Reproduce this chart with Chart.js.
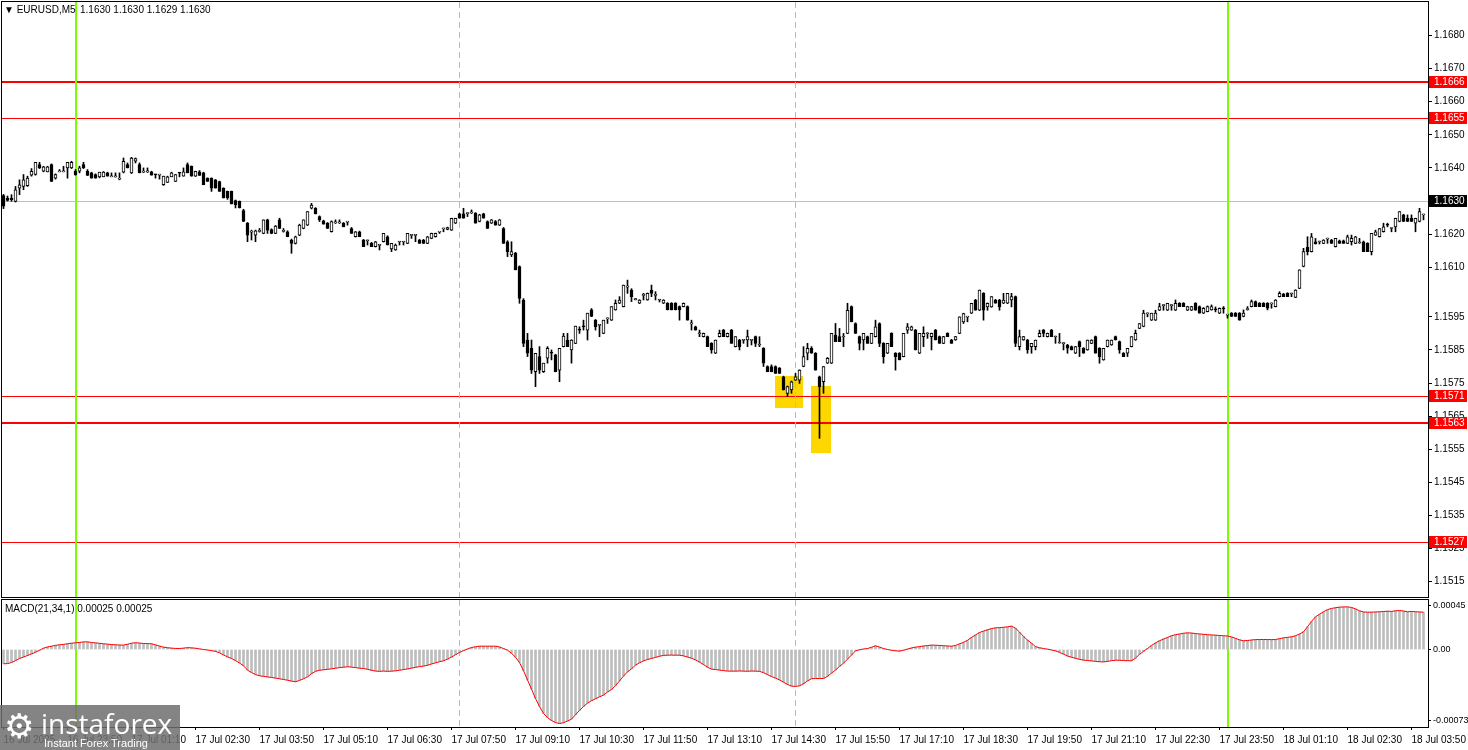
<!DOCTYPE html>
<html>
<head>
<meta charset="utf-8">
<title>EURUSD,M5</title>
<script src="https://cdn.jsdelivr.net/npm/chart.js"></script>
<style>
  body { margin: 0; background: #fff; width: 1468px; height: 750px; overflow: hidden; position: relative;
         font-family: "Liberation Sans", Arial, sans-serif; }
  #pricePane { position: absolute; left: 0; top: 0; width: 1468px; height: 600px; }
  #macdPane { position: absolute; left: 0; top: 598px; width: 1468px; height: 152px; }
  .txt { position: absolute; font-size: 10px; color: #000; white-space: nowrap; line-height: 12px; }
  #logo { position: absolute; left: 0; top: 705px; width: 180px; height: 45px; background: rgba(110,110,110,0.85); color: #fff; }
  #logo .gear { position: absolute; left: 4px; top: 2px; font-size: 34px; line-height: 38px; font-family: "DejaVu Sans"; }
  #logo .name { position: absolute; left: 41px; top: 1px; font-size: 28px; line-height: 34px; font-family: "Open Sans", "Liberation Sans"; }
  #logo .sub { position: absolute; left: 44px; top: 32px; font-size: 11px; line-height: 12px; font-family: "Liberation Sans"; }
</style>
</head>
<body>
<div id="pricePane"><canvas id="priceChart"></canvas></div>
<div id="macdPane"><canvas id="macdChart"></canvas></div>
<div class="txt" style="left:4px;top:4px;">&#9660; EURUSD,M5</div>
<div class="txt" style="left:80px;top:4px;">1.1630 1.1630 1.1629 1.1630</div>
<div class="txt" style="left:5px;top:603px;">MACD(21,34,1) 0.00025 0.00025</div>
<div id="logo"><span class="gear">&#9881;</span><span class="name">instaforex</span><span class="sub">Instant Forex Trading</span></div>
<script>
// 16 Jul 22:30 .. 18 Jul 04:05, one bar every 5 minutes
const open = [
  1.16316, 1.16309, 1.16309, 1.16299, 1.16339, 1.16344, 1.16346, 1.16378, 1.16380, 1.16410,
  1.16390, 1.16388, 1.16410, 1.16369, 1.16388, 1.16388, 1.16400, 1.16400, 1.16390, 1.16390,
  1.16410, 1.16390, 1.16385, 1.16380, 1.16373, 1.16373, 1.16385, 1.16373, 1.16373, 1.16366,
  1.16387, 1.16410, 1.16385, 1.16420, 1.16410, 1.16387, 1.16388, 1.16388, 1.16380, 1.16378,
  1.16349, 1.16356, 1.16373, 1.16359, 1.16385, 1.16375, 1.16410, 1.16405, 1.16375, 1.16388,
  1.16385, 1.16369, 1.16369, 1.16364, 1.16359, 1.16339, 1.16329, 1.16329, 1.16301, 1.16299,
  1.16271, 1.16233, 1.16206, 1.16197, 1.16208, 1.16202, 1.16243, 1.16214, 1.16202, 1.16243,
  1.16208, 1.16207, 1.16182, 1.16172, 1.16197, 1.16217, 1.16227, 1.16278, 1.16278, 1.16253,
  1.16240, 1.16233, 1.16207, 1.16234, 1.16234, 1.16233, 1.16236, 1.16217, 1.16192, 1.16207,
  1.16182, 1.16180, 1.16172, 1.16162, 1.16166, 1.16177, 1.16192, 1.16155, 1.16152, 1.16176,
  1.16176, 1.16172, 1.16196, 1.16196, 1.16182, 1.16182, 1.16172, 1.16187, 1.16192, 1.16206,
  1.16216, 1.16214, 1.16212, 1.16233, 1.16261, 1.16261, 1.16262, 1.16264, 1.16263, 1.16238,
  1.16261, 1.16238, 1.16233, 1.16238, 1.16227, 1.16217, 1.16177, 1.16137, 1.16142, 1.16102,
  1.16001, 1.15880, 1.15855, 1.15784, 1.15830, 1.15784, 1.15825, 1.15841, 1.15835, 1.15789,
  1.15860, 1.15880, 1.15850, 1.15870, 1.15911, 1.15921, 1.15910, 1.15971, 1.15940, 1.15924,
  1.15900, 1.15944, 1.15940, 1.15971, 1.15991, 1.15981, 1.16040, 1.16031, 1.16002, 1.15991,
  1.16015, 1.16001, 1.16031, 1.16015, 1.16001, 1.15991, 1.15991, 1.15991, 1.15991, 1.15981,
  1.15981, 1.15981, 1.15929, 1.15920, 1.15899, 1.15890, 1.15890, 1.15870, 1.15840, 1.15890,
  1.15910, 1.15890, 1.15910, 1.15860, 1.15880, 1.15879, 1.15880, 1.15879, 1.15890, 1.15865,
  1.15855, 1.15800, 1.15800, 1.15800, 1.15795, 1.15769, 1.15719, 1.15729, 1.15759, 1.15759,
  1.15800, 1.15840, 1.15855, 1.15840, 1.15769, 1.15754, 1.15810, 1.15810, 1.15895, 1.15890,
  1.15889, 1.15900, 1.15981, 1.15930, 1.15890, 1.15880, 1.15890, 1.15870, 1.15890, 1.15930,
  1.15870, 1.15840, 1.15900, 1.15840, 1.15840, 1.15830, 1.15910, 1.15910, 1.15910, 1.15840,
  1.15890, 1.15899, 1.15890, 1.15910, 1.15890, 1.15870, 1.15900, 1.15880, 1.15880, 1.15900,
  1.15935, 1.15949, 1.15961, 1.16001, 1.15970, 1.16021, 1.15980, 1.15980, 1.16001, 1.16001,
  1.15991, 1.15991, 1.16001, 1.16011, 1.15860, 1.15880, 1.15880, 1.15860, 1.15860, 1.15890,
  1.15910, 1.15890, 1.15910, 1.15889, 1.15871, 1.15869, 1.15865, 1.15860, 1.15840, 1.15875,
  1.15855, 1.15850, 1.15870, 1.15890, 1.15855, 1.15820, 1.15860, 1.15865, 1.15890, 1.15875,
  1.15840, 1.15840, 1.15860, 1.15880, 1.15915, 1.15921, 1.15959, 1.15940, 1.15940, 1.15970,
  1.15984, 1.15970, 1.15984, 1.15970, 1.15991, 1.15991, 1.15970, 1.15970, 1.15991, 1.15981,
  1.15961, 1.15966, 1.15971, 1.15972, 1.15961, 1.15975, 1.15955, 1.15961, 1.15961, 1.15961,
  1.15951, 1.15972, 1.15981, 1.15996, 1.15991, 1.15991, 1.15991, 1.15989, 1.15981, 1.16011,
  1.16019, 1.16021, 1.16019, 1.16009, 1.16036, 1.16102, 1.16160, 1.16147, 1.16177, 1.16176,
  1.16172, 1.16185, 1.16182, 1.16162, 1.16180, 1.16180, 1.16172, 1.16177, 1.16172, 1.16173,
  1.16177, 1.16172, 1.16147, 1.16197, 1.16192, 1.16207, 1.16228, 1.16217, 1.16222, 1.16238,
  1.16258, 1.16248, 1.16248, 1.16233, 1.16238, 1.16258
];
const high = [
  1.16320, 1.16315, 1.16319, 1.16344, 1.16364, 1.16380, 1.16375, 1.16398, 1.16417, 1.16417,
  1.16405, 1.16405, 1.16412, 1.16382, 1.16395, 1.16405, 1.16417, 1.16420, 1.16395, 1.16405,
  1.16417, 1.16395, 1.16387, 1.16382, 1.16387, 1.16389, 1.16387, 1.16385, 1.16385, 1.16385,
  1.16430, 1.16415, 1.16432, 1.16430, 1.16415, 1.16400, 1.16400, 1.16390, 1.16381, 1.16381,
  1.16375, 1.16375, 1.16387, 1.16380, 1.16386, 1.16400, 1.16415, 1.16406, 1.16390, 1.16392,
  1.16387, 1.16370, 1.16370, 1.16365, 1.16360, 1.16340, 1.16330, 1.16330, 1.16303, 1.16300,
  1.16275, 1.16235, 1.16212, 1.16212, 1.16217, 1.16243, 1.16245, 1.16216, 1.16226, 1.16248,
  1.16217, 1.16210, 1.16185, 1.16194, 1.16230, 1.16243, 1.16268, 1.16293, 1.16280, 1.16255,
  1.16242, 1.16235, 1.16240, 1.16243, 1.16243, 1.16235, 1.16238, 1.16220, 1.16208, 1.16209,
  1.16184, 1.16182, 1.16175, 1.16178, 1.16168, 1.16202, 1.16195, 1.16172, 1.16170, 1.16178,
  1.16178, 1.16202, 1.16198, 1.16198, 1.16184, 1.16184, 1.16193, 1.16203, 1.16203, 1.16208,
  1.16218, 1.16221, 1.16248, 1.16248, 1.16263, 1.16278, 1.16264, 1.16273, 1.16265, 1.16260,
  1.16263, 1.16240, 1.16244, 1.16241, 1.16244, 1.16220, 1.16180, 1.16177, 1.16145, 1.16104,
  1.16005, 1.15900, 1.15880, 1.15840, 1.15860, 1.15810, 1.15860, 1.15850, 1.15837, 1.15855,
  1.15900, 1.15900, 1.15881, 1.15922, 1.15920, 1.15940, 1.15961, 1.15975, 1.15942, 1.15927,
  1.15940, 1.15947, 1.15981, 1.16001, 1.16011, 1.16046, 1.16061, 1.16035, 1.16006, 1.16002,
  1.16021, 1.16022, 1.16046, 1.16026, 1.16003, 1.16002, 1.15993, 1.15993, 1.15993, 1.15983,
  1.15992, 1.15983, 1.15940, 1.15922, 1.15910, 1.15901, 1.15892, 1.15872, 1.15880, 1.15910,
  1.15912, 1.15901, 1.15912, 1.15890, 1.15882, 1.15882, 1.15910, 1.15882, 1.15892, 1.15890,
  1.15857, 1.15802, 1.15805, 1.15802, 1.15797, 1.15771, 1.15741, 1.15756, 1.15779, 1.15790,
  1.15860, 1.15870, 1.15860, 1.15842, 1.15771, 1.15800, 1.15827, 1.15900, 1.15930, 1.15915,
  1.15900, 1.15991, 1.15983, 1.15932, 1.15892, 1.15900, 1.15892, 1.15900, 1.15940, 1.15932,
  1.15872, 1.15870, 1.15902, 1.15842, 1.15842, 1.15900, 1.15930, 1.15922, 1.15912, 1.15900,
  1.15920, 1.15902, 1.15901, 1.15912, 1.15892, 1.15891, 1.15902, 1.15882, 1.15891, 1.15950,
  1.15961, 1.15951, 1.15991, 1.16003, 1.16031, 1.16023, 1.15992, 1.16011, 1.16003, 1.16003,
  1.16021, 1.16021, 1.16021, 1.16013, 1.15910, 1.15891, 1.15882, 1.15870, 1.15880, 1.15910,
  1.15912, 1.15901, 1.15912, 1.15892, 1.15900, 1.15872, 1.15867, 1.15862, 1.15861, 1.15877,
  1.15857, 1.15880, 1.15881, 1.15892, 1.15857, 1.15855, 1.15880, 1.15880, 1.15892, 1.15877,
  1.15842, 1.15855, 1.15890, 1.15910, 1.15930, 1.15970, 1.15962, 1.15961, 1.15970, 1.15991,
  1.15987, 1.15991, 1.15987, 1.16001, 1.15993, 1.15993, 1.15982, 1.15982, 1.15993, 1.15983,
  1.15978, 1.15983, 1.15986, 1.15980, 1.15977, 1.15981, 1.15957, 1.15963, 1.15963, 1.15963,
  1.15971, 1.15981, 1.16001, 1.15998, 1.15993, 1.15993, 1.15993, 1.15992, 1.16002, 1.16026,
  1.16021, 1.16023, 1.16022, 1.16032, 1.16092, 1.16157, 1.16192, 1.16202, 1.16187, 1.16179,
  1.16183, 1.16188, 1.16184, 1.16187, 1.16182, 1.16182, 1.16197, 1.16197, 1.16193, 1.16187,
  1.16179, 1.16174, 1.16202, 1.16212, 1.16217, 1.16233, 1.16233, 1.16219, 1.16248, 1.16268,
  1.16260, 1.16258, 1.16258, 1.16248, 1.16278, 1.16260
];
const low = [
  1.16277, 1.16300, 1.16299, 1.16297, 1.16319, 1.16334, 1.16344, 1.16375, 1.16378, 1.16398,
  1.16388, 1.16388, 1.16359, 1.16366, 1.16388, 1.16388, 1.16369, 1.16398, 1.16378, 1.16385,
  1.16398, 1.16377, 1.16369, 1.16369, 1.16370, 1.16373, 1.16375, 1.16373, 1.16372, 1.16364,
  1.16385, 1.16400, 1.16383, 1.16415, 1.16385, 1.16386, 1.16386, 1.16378, 1.16369, 1.16366,
  1.16347, 1.16356, 1.16373, 1.16359, 1.16373, 1.16375, 1.16385, 1.16375, 1.16374, 1.16377,
  1.16349, 1.16359, 1.16329, 1.16339, 1.16329, 1.16309, 1.16305, 1.16291, 1.16279, 1.16279,
  1.16238, 1.16177, 1.16182, 1.16177, 1.16206, 1.16201, 1.16202, 1.16201, 1.16201, 1.16217,
  1.16206, 1.16192, 1.16142, 1.16170, 1.16195, 1.16216, 1.16226, 1.16276, 1.16261, 1.16238,
  1.16230, 1.16217, 1.16206, 1.16232, 1.16232, 1.16222, 1.16227, 1.16202, 1.16191, 1.16192,
  1.16162, 1.16167, 1.16162, 1.16161, 1.16152, 1.16176, 1.16167, 1.16147, 1.16151, 1.16167,
  1.16167, 1.16171, 1.16187, 1.16177, 1.16172, 1.16172, 1.16171, 1.16186, 1.16191, 1.16202,
  1.16207, 1.16213, 1.16211, 1.16232, 1.16248, 1.16248, 1.16253, 1.16262, 1.16233, 1.16237,
  1.16248, 1.16217, 1.16232, 1.16227, 1.16226, 1.16172, 1.16132, 1.16132, 1.16092, 1.15991,
  1.15860, 1.15830, 1.15779, 1.15739, 1.15779, 1.15782, 1.15810, 1.15820, 1.15784, 1.15754,
  1.15859, 1.15860, 1.15810, 1.15869, 1.15900, 1.15910, 1.15880, 1.15951, 1.15910, 1.15890,
  1.15899, 1.15930, 1.15939, 1.15970, 1.15990, 1.15980, 1.16021, 1.15996, 1.16001, 1.15990,
  1.16001, 1.16000, 1.16011, 1.16001, 1.15995, 1.15990, 1.15971, 1.15971, 1.15971, 1.15940,
  1.15980, 1.15940, 1.15910, 1.15910, 1.15890, 1.15889, 1.15860, 1.15840, 1.15839, 1.15889,
  1.15890, 1.15889, 1.15870, 1.15859, 1.15850, 1.15870, 1.15860, 1.15865, 1.15860, 1.15860,
  1.15800, 1.15784, 1.15784, 1.15779, 1.15779, 1.15729, 1.15709, 1.15719, 1.15758, 1.15749,
  1.15799, 1.15820, 1.15840, 1.15789, 1.15583, 1.15719, 1.15809, 1.15809, 1.15875, 1.15875,
  1.15860, 1.15899, 1.15935, 1.15900, 1.15850, 1.15850, 1.15870, 1.15869, 1.15889, 1.15860,
  1.15810, 1.15839, 1.15860, 1.15789, 1.15820, 1.15829, 1.15900, 1.15909, 1.15850, 1.15839,
  1.15860, 1.15885, 1.15850, 1.15880, 1.15870, 1.15869, 1.15890, 1.15870, 1.15879, 1.15899,
  1.15930, 1.15935, 1.15960, 1.15970, 1.15969, 1.15940, 1.15970, 1.15979, 1.15991, 1.15970,
  1.15990, 1.15990, 1.15980, 1.15860, 1.15850, 1.15879, 1.15840, 1.15840, 1.15850, 1.15889,
  1.15890, 1.15889, 1.15890, 1.15870, 1.15870, 1.15850, 1.15840, 1.15850, 1.15839, 1.15830,
  1.15840, 1.15849, 1.15869, 1.15840, 1.15810, 1.15819, 1.15859, 1.15864, 1.15880, 1.15840,
  1.15830, 1.15830, 1.15859, 1.15879, 1.15914, 1.15920, 1.15950, 1.15939, 1.15939, 1.15969,
  1.15970, 1.15969, 1.15970, 1.15969, 1.15981, 1.15981, 1.15969, 1.15969, 1.15970, 1.15961,
  1.15960, 1.15965, 1.15970, 1.15965, 1.15960, 1.15961, 1.15946, 1.15951, 1.15951, 1.15940,
  1.15950, 1.15970, 1.15980, 1.15981, 1.15981, 1.15981, 1.15971, 1.15976, 1.15980, 1.16010,
  1.16011, 1.16011, 1.16011, 1.16008, 1.16035, 1.16101, 1.16137, 1.16146, 1.16170, 1.16170,
  1.16171, 1.16172, 1.16172, 1.16161, 1.16172, 1.16172, 1.16171, 1.16167, 1.16171, 1.16172,
  1.16147, 1.16147, 1.16137, 1.16196, 1.16191, 1.16206, 1.16222, 1.16207, 1.16207, 1.16237,
  1.16238, 1.16238, 1.16238, 1.16207, 1.16237, 1.16243
];
const close = [
  1.16284, 1.16302, 1.16304, 1.16334, 1.16349, 1.16364, 1.16369, 1.16390, 1.16417, 1.16400,
  1.16403, 1.16403, 1.16359, 1.16380, 1.16389, 1.16389, 1.16417, 1.16417, 1.16379, 1.16400,
  1.16400, 1.16377, 1.16369, 1.16369, 1.16387, 1.16387, 1.16375, 1.16374, 1.16374, 1.16367,
  1.16420, 1.16400, 1.16430, 1.16428, 1.16385, 1.16388, 1.16389, 1.16378, 1.16379, 1.16379,
  1.16375, 1.16373, 1.16385, 1.16380, 1.16384, 1.16388, 1.16385, 1.16375, 1.16390, 1.16377,
  1.16349, 1.16359, 1.16339, 1.16339, 1.16329, 1.16309, 1.16309, 1.16291, 1.16289, 1.16279,
  1.16238, 1.16197, 1.16208, 1.16210, 1.16209, 1.16243, 1.16212, 1.16202, 1.16224, 1.16217,
  1.16209, 1.16192, 1.16172, 1.16192, 1.16227, 1.16243, 1.16268, 1.16288, 1.16261, 1.16243,
  1.16230, 1.16217, 1.16238, 1.16235, 1.16235, 1.16222, 1.16237, 1.16202, 1.16207, 1.16192,
  1.16162, 1.16181, 1.16162, 1.16177, 1.16167, 1.16202, 1.16167, 1.16172, 1.16167, 1.16177,
  1.16177, 1.16202, 1.16197, 1.16197, 1.16172, 1.16172, 1.16192, 1.16202, 1.16202, 1.16207,
  1.16217, 1.16220, 1.16248, 1.16248, 1.16248, 1.16248, 1.16263, 1.16265, 1.16233, 1.16258,
  1.16248, 1.16217, 1.16243, 1.16227, 1.16243, 1.16172, 1.16147, 1.16147, 1.16092, 1.16006,
  1.15870, 1.15840, 1.15789, 1.15840, 1.15789, 1.15810, 1.15855, 1.15840, 1.15784, 1.15855,
  1.15892, 1.15860, 1.15880, 1.15922, 1.15910, 1.15920, 1.15961, 1.15951, 1.15920, 1.15925,
  1.15940, 1.15945, 1.15981, 1.15991, 1.16001, 1.16046, 1.16041, 1.16011, 1.16003, 1.16001,
  1.16016, 1.16021, 1.16021, 1.16016, 1.16002, 1.16001, 1.15971, 1.15971, 1.15971, 1.15971,
  1.15991, 1.15940, 1.15930, 1.15910, 1.15900, 1.15900, 1.15860, 1.15850, 1.15880, 1.15900,
  1.15890, 1.15900, 1.15870, 1.15890, 1.15860, 1.15880, 1.15890, 1.15880, 1.15870, 1.15866,
  1.15810, 1.15784, 1.15784, 1.15779, 1.15779, 1.15729, 1.15739, 1.15754, 1.15769, 1.15789,
  1.15830, 1.15855, 1.15840, 1.15789, 1.15739, 1.15800, 1.15825, 1.15900, 1.15875, 1.15875,
  1.15890, 1.15970, 1.15935, 1.15900, 1.15870, 1.15900, 1.15870, 1.15900, 1.15920, 1.15870,
  1.15830, 1.15870, 1.15860, 1.15830, 1.15820, 1.15900, 1.15920, 1.15920, 1.15850, 1.15900,
  1.15900, 1.15900, 1.15900, 1.15880, 1.15870, 1.15890, 1.15890, 1.15870, 1.15890, 1.15950,
  1.15960, 1.15950, 1.15991, 1.15970, 1.16031, 1.15970, 1.15991, 1.16011, 1.15991, 1.15980,
  1.16001, 1.16021, 1.16011, 1.15870, 1.15890, 1.15890, 1.15850, 1.15870, 1.15880, 1.15900,
  1.15900, 1.15900, 1.15890, 1.15890, 1.15872, 1.15870, 1.15855, 1.15850, 1.15860, 1.15860,
  1.15840, 1.15880, 1.15880, 1.15840, 1.15830, 1.15855, 1.15880, 1.15880, 1.15880, 1.15850,
  1.15830, 1.15855, 1.15890, 1.15900, 1.15930, 1.15961, 1.15960, 1.15961, 1.15961, 1.15981,
  1.15985, 1.15991, 1.15985, 1.15991, 1.15981, 1.15981, 1.15981, 1.15981, 1.15970, 1.15961,
  1.15976, 1.15981, 1.15981, 1.15971, 1.15976, 1.15974, 1.15956, 1.15951, 1.15951, 1.15940,
  1.15961, 1.15973, 1.15996, 1.15981, 1.15981, 1.15981, 1.15976, 1.15990, 1.16001, 1.16021,
  1.16011, 1.16011, 1.16020, 1.16031, 1.16092, 1.16147, 1.16147, 1.16192, 1.16170, 1.16177,
  1.16182, 1.16186, 1.16172, 1.16187, 1.16172, 1.16172, 1.16192, 1.16187, 1.16192, 1.16174,
  1.16147, 1.16147, 1.16202, 1.16207, 1.16217, 1.16222, 1.16227, 1.16218, 1.16248, 1.16268,
  1.16238, 1.16238, 1.16238, 1.16248, 1.16268, 1.16259
];
// MACD(21,34,1) main = signal
const macd = [
  -0.000148, -0.000146, -0.000135, -0.000115, -0.000093, -0.000078, -0.000062, -0.000046, -0.000028, -0.000008,
  0.000013, 0.000026, 0.000034, 0.000043, 0.000048, 0.000053, 0.000059, 0.000065, 0.000069, 0.000073,
  0.000078, 0.000079, 0.000072, 0.000068, 0.000064, 0.000059, 0.000055, 0.000051, 0.000048, 0.000046,
  0.000045, 0.000054, 0.000065, 0.000070, 0.000066, 0.000062, 0.000061, 0.000059, 0.000048, 0.000035,
  0.000024, 0.000018, 0.000014, 0.000011, 0.000010, 0.000014, 0.000019, 0.000017, 0.000013, 0.000006,
  0.000000, -0.000005, -0.000012, -0.000020, -0.000034, -0.000056, -0.000076, -0.000093, -0.000115, -0.000140,
  -0.000168, -0.000214, -0.000238, -0.000260, -0.000272, -0.000278, -0.000284, -0.000290, -0.000296, -0.000303,
  -0.000310, -0.000318, -0.000327, -0.000334, -0.000320, -0.000303, -0.000283, -0.000250, -0.000226, -0.000215,
  -0.000210, -0.000205, -0.000200, -0.000194, -0.000188, -0.000183, -0.000179, -0.000182, -0.000188, -0.000193,
  -0.000197, -0.000205, -0.000215, -0.000223, -0.000226, -0.000223, -0.000226, -0.000224, -0.000221, -0.000215,
  -0.000208, -0.000201, -0.000193, -0.000185, -0.000177, -0.000172, -0.000163, -0.000150, -0.000138, -0.000127,
  -0.000117, -0.000100, -0.000079, -0.000054, -0.000031, -0.000012, 0.000005, 0.000021, 0.000028, 0.000034,
  0.000034, 0.000034, 0.000034, 0.000034, 0.000026, 0.000010, -0.000007, -0.000040, -0.000080, -0.000135,
  -0.000220, -0.000315, -0.000410, -0.000507, -0.000590, -0.000662, -0.000705, -0.000735, -0.000756, -0.000766,
  -0.000758, -0.000740, -0.000721, -0.000675, -0.000630, -0.000590, -0.000555, -0.000530, -0.000510, -0.000490,
  -0.000472, -0.000440, -0.000415, -0.000375, -0.000325, -0.000275, -0.000231, -0.000200, -0.000162, -0.000138,
  -0.000118, -0.000103, -0.000093, -0.000082, -0.000070, -0.000061, -0.000059, -0.000058, -0.000059, -0.000059,
  -0.000066, -0.000078, -0.000090, -0.000108, -0.000130, -0.000156, -0.000183, -0.000203, -0.000208, -0.000213,
  -0.000219, -0.000223, -0.000224, -0.000224, -0.000222, -0.000224, -0.000225, -0.000223, -0.000224, -0.000226,
  -0.000240, -0.000260, -0.000280, -0.000296, -0.000315, -0.000338, -0.000362, -0.000379, -0.000382, -0.000376,
  -0.000355, -0.000325, -0.000303, -0.000300, -0.000301, -0.000300, -0.000278, -0.000245, -0.000213, -0.000175,
  -0.000142, -0.000100, -0.000058, -0.000014, -0.000003, 0.000005, 0.000010, 0.000023, 0.000038, 0.000025,
  0.000010, 0.000000, -0.000008, -0.000014, -0.000017, -0.000008, 0.000004, 0.000016, 0.000024, 0.000030,
  0.000036, 0.000041, 0.000045, 0.000044, 0.000042, 0.000039, 0.000036, 0.000034, 0.000042, 0.000058,
  0.000074, 0.000095, 0.000125, 0.000150, 0.000176, 0.000190, 0.000204, 0.000216, 0.000224, 0.000226,
  0.000230, 0.000234, 0.000242, 0.000220, 0.000180, 0.000135, 0.000097, 0.000065, 0.000030, 0.000018,
  0.000010, 0.000003, -0.000005, -0.000014, -0.000030, -0.000048, -0.000068, -0.000080, -0.000091, -0.000102,
  -0.000110, -0.000114, -0.000118, -0.000123, -0.000127, -0.000128, -0.000123, -0.000116, -0.000111, -0.000112,
  -0.000114, -0.000116, -0.000117, -0.000090, -0.000050, -0.000020, 0.000010, 0.000042, 0.000068, 0.000090,
  0.000108, 0.000125, 0.000142, 0.000153, 0.000160, 0.000168, 0.000172, 0.000170, 0.000165, 0.000160,
  0.000157, 0.000153, 0.000150, 0.000148, 0.000145, 0.000142, 0.000140, 0.000130, 0.000115, 0.000100,
  0.000090, 0.000093, 0.000098, 0.000102, 0.000103, 0.000103, 0.000103, 0.000102, 0.000103, 0.000112,
  0.000120, 0.000126, 0.000131, 0.000142, 0.000160, 0.000183, 0.000235, 0.000290, 0.000338, 0.000365,
  0.000390, 0.000412, 0.000425, 0.000432, 0.000438, 0.000440, 0.000441, 0.000435, 0.000420, 0.000400,
  0.000388, 0.000386, 0.000386, 0.000388, 0.000390, 0.000393, 0.000396, 0.000394, 0.000400, 0.000403,
  0.000398, 0.000390, 0.000394, 0.000390, 0.000388, 0.000386
];

const tickBars = [0, 16, 32, 48, 64, 80, 96, 112, 128, 144, 160, 176, 192, 208, 224, 240, 256, 272, 288, 304, 320, 336, 352];
const tickLabels = ['16 Jul 2025', '16 Jul 23:50', '17 Jul 01:10', '17 Jul 02:30', '17 Jul 03:50', '17 Jul 05:10',
  '17 Jul 06:30', '17 Jul 07:50', '17 Jul 09:10', '17 Jul 10:30', '17 Jul 11:50', '17 Jul 13:10', '17 Jul 14:30',
  '17 Jul 15:50', '17 Jul 17:10', '17 Jul 18:30', '17 Jul 19:50', '17 Jul 21:10', '17 Jul 22:30', '17 Jul 23:50',
  '18 Jul 01:10', '18 Jul 02:30', '18 Jul 03:50'];
const priceTicks = [1.1680, 1.1670, 1.1660, 1.1650, 1.1640, 1.1620, 1.1610, 1.1595, 1.1585, 1.1575,
  1.1565, 1.1555, 1.1545, 1.1535, 1.1525, 1.1515];
const macdTicks = [0.00045, 0, -0.00073];

const strongLevels = [1.1666, 1.1563];
const thinLevels = [1.1655, 1.1571, 1.1527];
const bidPrice = 1.1630;
const dayLines = [18, 306];       // 17 Jul 00:00, 18 Jul 00:00
const sessionLines = [114, 198];  // 17 Jul 08:00, 17 Jul 15:00
const boxFrom = [192.9, 201.9];
const boxTo = [199.9, 206.9];
const boxTop = [1.15771, 1.15741];
const boxBottom = [1.15675, 1.15539];

const X_MIN = -0.375, X_MAX = 356.125;
const FONT = {family: '"Liberation Sans", Arial, sans-serif', size: 10};

function rightAxisFit(scale) {
    scale.width = 40;
    scale.paddingTop = 0;
    scale.paddingBottom = 0;
}

const pricePlugin = {
    id: 'priceOverlays',
    beforeDatasetsDraw(chart) {
        const {ctx, chartArea: a, scales: {x, y}} = chart;
        ctx.save();
        ctx.beginPath();
        ctx.rect(a.left, a.top, a.right - a.left, a.bottom - a.top);
        ctx.clip();
        ctx.fillStyle = '#FFD700';
        boxFrom.forEach((b, i) => {
            const x0 = Math.round(x.getPixelForValue(b)), x1 = Math.round(x.getPixelForValue(boxTo[i]));
            const y0 = Math.round(y.getPixelForValue(boxTop[i])), y1 = Math.round(y.getPixelForValue(boxBottom[i]));
            ctx.fillRect(x0, y0, x1 - x0, y1 - y0);
        });
        ctx.fillStyle = '#C0C0C0';
        ctx.fillRect(a.left, Math.round(y.getPixelForValue(bidPrice)), a.right - a.left, 1);
        ctx.fillStyle = '#FF0000';
        thinLevels.forEach(v => ctx.fillRect(a.left, Math.round(y.getPixelForValue(v)), a.right - a.left, 1));
        strongLevels.forEach(v => ctx.fillRect(a.left, Math.round(y.getPixelForValue(v)) - 1, a.right - a.left, 2));
        ctx.fillStyle = '#7CFC00';
        dayLines.forEach(b => ctx.fillRect(Math.round(x.getPixelForValue(b)) - 1, a.top, 2, a.bottom - a.top));
        ctx.strokeStyle = '#7CFC00';
        ctx.lineWidth = 1;
        ctx.setLineDash([6, 4]);
        sessionLines.forEach(b => {
            const px = Math.floor(x.getPixelForValue(b)) + 0.5;
            ctx.beginPath(); ctx.moveTo(px, a.top); ctx.lineTo(px, a.bottom); ctx.stroke();
        });
        ctx.restore();
    },
    afterDraw(chart) {
        const {ctx, chartArea: a, scales: {y}} = chart;
        ctx.save();
        ctx.strokeStyle = '#000';
        ctx.lineWidth = 1;
        ctx.strokeRect(a.left - 0.5, a.top - 0.5, a.right - a.left + 1, a.bottom - a.top + 1);
        ctx.font = '10px "Liberation Sans", Arial, sans-serif';
        ctx.textBaseline = 'middle';
        const tag = (v, bg) => {
            const py = Math.round(y.getPixelForValue(v));
            ctx.fillStyle = bg;
            ctx.fillRect(a.right + 1, py - 6, 38, 12);
            ctx.fillStyle = '#fff';
            ctx.fillText(v.toFixed(4), a.right + 6, py + 0.5);
        };
        strongLevels.concat(thinLevels).forEach(v => tag(v, '#FF0000'));
        tag(bidPrice, '#000');
        ctx.restore();
    }
};

const macdPlugin = {
    id: 'macdFrame',
    beforeDatasetsDraw(chart) {
        const {ctx, chartArea: a, scales: {x}} = chart;
        ctx.save();
        ctx.fillStyle = '#7CFC00';
        dayLines.forEach(b => ctx.fillRect(Math.round(x.getPixelForValue(b)) - 1, a.top, 2, a.bottom - a.top));
        ctx.strokeStyle = '#7CFC00';
        ctx.lineWidth = 1;
        ctx.setLineDash([6, 4]);
        sessionLines.forEach(b => {
            const px = Math.floor(x.getPixelForValue(b)) + 0.5;
            ctx.beginPath(); ctx.moveTo(px, a.top); ctx.lineTo(px, a.bottom); ctx.stroke();
        });
        ctx.restore();
    },
    afterDraw(chart) {
        const {ctx, chartArea: a} = chart;
        ctx.save();
        ctx.strokeStyle = '#000';
        ctx.lineWidth = 1;
        ctx.strokeRect(a.left - 0.5, a.top - 0.5, a.right - a.left + 1, a.bottom - a.top + 1);
        ctx.restore();
    }
};

function setupPriceChart() {
    const wicks = low.map((l, i) => ({x: i, y: [l, high[i]]}));
    const bodies = open.map((o, i) => ({x: i, y: [o, close[i]]}));
    const bodyColors = open.map((o, i) => close[i] >= o ? '#ffffff' : '#000000');
    return new Chart(document.getElementById('priceChart'), {
        type: 'bar',
        data: {
            datasets: [{
                label: 'body',
                data: bodies,
                backgroundColor: bodyColors,
                borderColor: '#000',
                borderWidth: 1,
                borderSkipped: false,
                barThickness: 3,
                minBarLength: 1,
                grouped: false,
                order: 0
            }, {
                label: 'wick',
                data: wicks,
                backgroundColor: '#000',
                borderWidth: 0,
                barThickness: 1,
                minBarLength: 1,
                grouped: false,
                order: 1
            }]
        },
        options: {
            responsive: true,
            maintainAspectRatio: false,
            devicePixelRatio: 1,
            animation: false,
            layout: {padding: {left: 2, top: 2, right: 0, bottom: 3}},
            plugins: {legend: {display: false}, tooltip: {enabled: false}},
            scales: {
                x: {type: 'linear', min: X_MIN, max: X_MAX, offset: false, display: false,
                    grid: {offset: false}},
                y: {
                    position: 'right',
                    min: 1.151036,
                    max: 1.169012,
                    afterBuildTicks: (s) => { s.ticks = priceTicks.map(v => ({value: v})); },
                    afterFit: rightAxisFit,
                    grid: {drawOnChartArea: false, drawTicks: true, tickLength: 4, color: '#000'},
                    border: {display: true, color: '#000'},
                    ticks: {color: '#000', font: FONT, padding: 2, autoSkip: false,
                        callback: (v) => v.toFixed(4)}
                }
            }
        },
        plugins: [pricePlugin]
    });
}

function setupMacdChart() {
    const hist = macd.map((v, i) => ({x: i, y: v}));
    return new Chart(document.getElementById('macdChart'), {
        type: 'bar',
        data: {
            datasets: [{
                type: 'line',
                label: 'signal',
                data: hist,
                borderColor: '#FF0000',
                borderWidth: 1,
                pointRadius: 0,
                tension: 0,
                order: 0
            }, {
                label: 'MACD',
                data: hist,
                backgroundColor: '#BDBDBD',
                borderWidth: 0,
                barThickness: 2,
                grouped: false,
                order: 1
            }]
        },
        options: {
            responsive: true,
            maintainAspectRatio: false,
            devicePixelRatio: 1,
            animation: false,
            layout: {padding: {left: 2, top: 2, right: 0, bottom: 0}},
            plugins: {legend: {display: false}, tooltip: {enabled: false}},
            scales: {
                x: {
                    type: 'linear', min: X_MIN, max: X_MAX, position: 'bottom', offset: false,
                    afterBuildTicks: (s) => { s.ticks = tickBars.map(v => ({value: v})); },
                    afterFit: (s) => { s.height = 23; s.paddingLeft = 0; s.paddingRight = 0; },
                    grid: {drawOnChartArea: false, drawTicks: true, tickLength: 3, color: '#000', offset: false},
                    border: {display: true, color: '#000'},
                    ticks: {color: '#000', font: FONT, align: 'start', maxRotation: 0, autoSkip: false, padding: 4,
                        callback: (v, idx) => tickLabels[idx]}
                },
                y: {
                    position: 'right',
                    min: -0.000802,
                    max: 0.000512,
                    afterBuildTicks: (s) => { s.ticks = macdTicks.map(v => ({value: v})); },
                    afterFit: rightAxisFit,
                    grid: {drawOnChartArea: false, drawTicks: true, tickLength: 3, color: '#000'},
                    border: {display: true, color: '#000'},
                    ticks: {color: '#000', font: {family: FONT.family, size: 9}, padding: 2, autoSkip: false,
                        callback: (v) => v === 0 ? '0.00' : v.toFixed(5)}
                }
            }
        },
        plugins: [macdPlugin]
    });
}

function main() {
    setupPriceChart();
    setupMacdChart();
}

main();
</script>
</body>
</html>
